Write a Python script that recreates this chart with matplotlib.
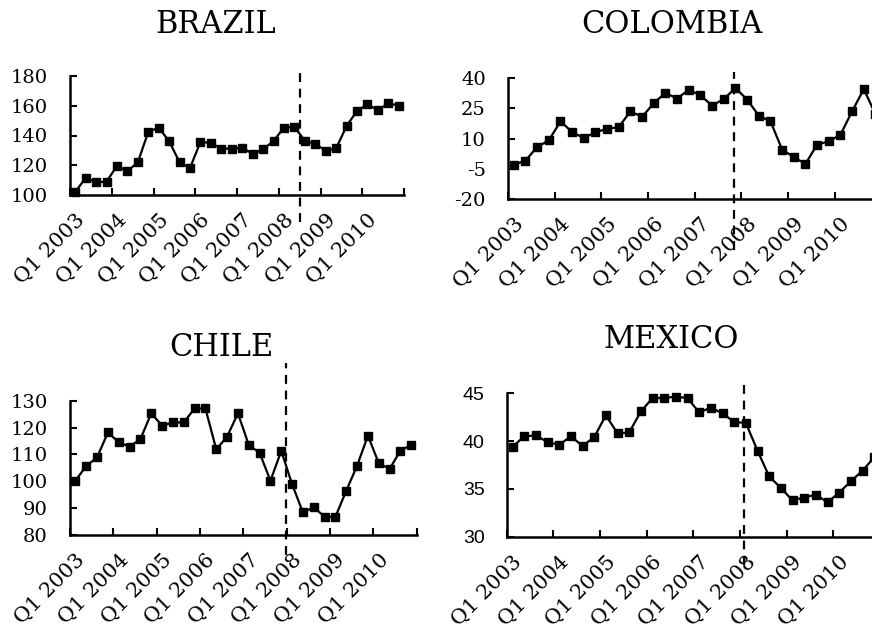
import matplotlib
matplotlib.use("Agg")
import matplotlib.pyplot as plt

# quarters Q1 2003 .. Q4 2010
quarters = [f"Q{q} {y}" for y in range(2003, 2011) for q in range(1, 5)]

brazil = [102, 111.5, 108.5, 109, 119.6, 116, 122, 142.4, 145.3, 136.1, 122, 118.2,
          135.7, 135, 131.2, 131.2, 131.6, 127.8, 130.7, 136.3, 145.3, 145.7, 136.6, 134.3,
          129.8, 131.4, 146.4, 156.5, 161, 156.9, 161.8, 160]
colombia = [-3, -1, 5.8, 9.1, 18.5, 13.2, 10.2, 13.2, 14.7, 15.7, 23.5, 20.7,
            27.6, 32.6, 29.8, 34.2, 31.4, 26.3, 29.6, 35, 29.3, 21.3, 18.5, 4.5,
            0.8, -2.6, 7, 8.6, 11.9, 23.5, 34.5, 22]
chile = [100.2, 105.7, 108.9, 118.2, 114.5, 112.9, 115.7, 125.3, 120.7, 121.9, 121.9, 127.1,
         127.1, 111.9, 116.6, 125.3, 113.5, 110.6, 100.2, 111.3, 98.9, 88.4, 90.3, 86.8,
         86.8, 96.5, 105.8, 117, 106.7, 104.6, 111.4, 113.6]
mexico = [39.4, 40.5, 40.6, 39.9, 39.6, 40.5, 39.5, 40.4, 42.7, 40.8, 40.9, 43.1,
          44.5, 44.5, 44.65, 44.5, 43, 43.5, 42.9, 42, 41.9, 39, 36.3, 35.1,
          33.8, 34.1, 34.4, 33.6, 34.6, 35.8, 36.9, 38.3]

W, H = 872, 629
fig = plt.figure(figsize=(W / 100, H / 100), dpi=100)

serif = "DejaVu Serif"

# name, data, y ticks, dashed x, dashed extent, axes box (px), title pos (px), ytick font
panels = [
    ("BRAZIL", brazil, [100, 120, 140, 160, 180], 21.5, (-0.23, 1.05),
     (70, 76, 404, 195), (216, 24.5), serif),
    ("COLOMBIA", colombia, [-20, -5, 10, 25, 40], 18.9, (-0.42, 1.05),
     (508, 78, 881.3, 199), (672, 24.5), serif),
    ("CHILE", chile, [80, 90, 100, 110, 120, 130], 19.4, (-0.15, 1.28),
     (70, 400.7, 416.7, 535), (221.5, 347.5), serif),
    ("MEXICO", mexico, [30, 35, 40, 45], 19.85, (-0.2, 1.07),
     (506.7, 393.3, 880, 536.7), (671, 340), "Liberation Sans"),
]

x = list(range(len(quarters)))

for name, vals, yt, xd, (d0, d1), (l, t, r, b), (tx, ty), yfont in panels:
    ax = fig.add_axes([l / W, 1 - b / H, (r - l) / W, (b - t) / H])
    ax.plot(x, vals, color="black", lw=1.6, marker="s", ms=6, zorder=3, clip_on=False)
    ax.set_xlim(-0.5, len(quarters) - 0.5)
    ax.set_ylim(yt[0], yt[-1])
    ax.set_yticks(yt)
    ax.set_yticklabels([str(v) for v in yt], fontsize=14, family=yfont)
    ax.set_xticks([i - 0.5 for i in range(0, len(quarters) + 1, 4)])
    ax.set_xticks(x[::4], minor=True)
    ax.set_xticklabels([])
    ax.set_xticklabels(quarters[::4], minor=True, rotation=45, ha="right",
                       va="top", rotation_mode="anchor", fontsize=15, family=serif)
    ax.tick_params(axis="x", which="minor", length=0, pad=11)
    ax.tick_params(axis="both", which="major", direction="in", length=5, width=1.5)
    ax.tick_params(axis="y", pad=16)
    for s in ["top", "right"]:
        ax.spines[s].set_visible(False)
    for s in ["left", "bottom"]:
        ax.spines[s].set_linewidth(1.8)
    ax.axvline(xd, ymin=d0, ymax=d1, color="black", lw=1.6, ls=(0, (4, 3)),
               clip_on=False, zorder=4)
    fig.text(tx / W, 1 - ty / H, name, ha="center", va="center",
             fontsize=22, family=serif)

fig.savefig("out.png", dpi=100)
